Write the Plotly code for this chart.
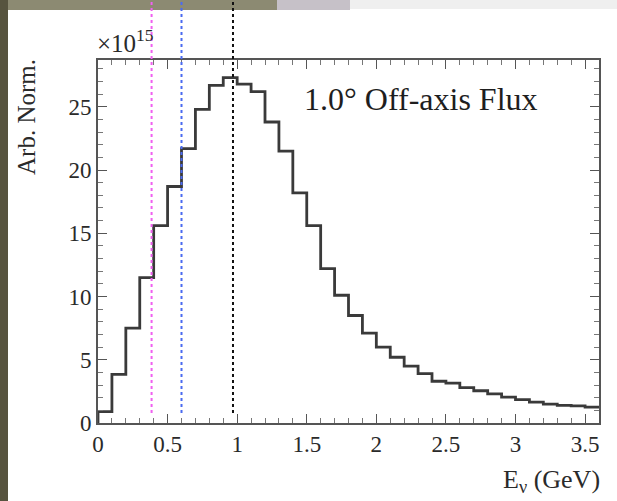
import plotly.graph_objects as go

# ---- data ----
bin_edges = [0.0, 0.1, 0.2, 0.3, 0.4, 0.5, 0.6, 0.7, 0.8, 0.9, 1.0, 1.1, 1.2,
             1.3, 1.4, 1.5, 1.6, 1.7, 1.8, 1.9, 2.0, 2.1, 2.2, 2.3, 2.4, 2.5,
             2.6, 2.7, 2.8, 2.9, 3.0, 3.1, 3.2, 3.3, 3.4, 3.5, 3.6]
flux = [0.9, 3.85, 7.5, 11.5, 15.6, 18.7, 21.7, 24.8, 26.7, 27.3, 26.8, 26.2,
        23.8, 21.5, 18.2, 15.6, 12.2, 10.1, 8.5, 7.1, 6.0, 5.2, 4.5, 3.9,
        3.3, 3.15, 2.8, 2.55, 2.3, 2.05, 1.85, 1.65, 1.5, 1.4, 1.35, 1.25]
marker_energies = [0.385, 0.6, 0.97]
marker_colors = ["#f060f0", "#4a6af0", "#111111"]
x_ticks = [0, 0.5, 1, 1.5, 2, 2.5, 3, 3.5]
x_tick_labels = ["0", "0.5", "1", "1.5", "2", "2.5", "3", "3.5"]
y_ticks = [0, 5, 10, 15, 20, 25]
y_tick_labels = ["0", "5", "10", "15", "20", "25"]
x_range = [0, 3.6]
y_range = [0, 28.7]

W, H = 617, 501
L, R, T, B = 98, 18, 60, 78
pw, ph = W - L - R, H - T - B


def px(xp):
    return (xp - L) / pw


def py(yp):
    return (H - B - yp) / ph


# step line
xs = [bin_edges[0]]
ys = [0]
for i, v in enumerate(flux):
    xs += [bin_edges[i], bin_edges[i + 1]]
    ys += [v, v]

fig = go.Figure()
fig.add_trace(go.Scatter(x=xs, y=ys, mode="lines",
                         line=dict(color="#3a3a3a", width=2.8),
                         hoverinfo="skip", showlegend=False))

font = "Liberation Serif, Times New Roman, serif"
txt = "#2a2a2a"

shapes = []
# decorative bands of the screenshot
shapes.append(dict(type="rect", xref="paper", yref="paper",
                   x0=px(0), x1=px(8), y0=py(H), y1=py(0),
                   fillcolor="#57543f", line=dict(width=0), layer="above"))
shapes.append(dict(type="rect", xref="paper", yref="paper",
                   x0=px(8), x1=px(277), y0=py(10), y1=py(0),
                   fillcolor="#8c8a72", line=dict(width=0), layer="above"))
shapes.append(dict(type="rect", xref="paper", yref="paper",
                   x0=px(277), x1=px(350), y0=py(10), y1=py(0),
                   fillcolor="#c6c1c8", line=dict(width=0), layer="above"))
shapes.append(dict(type="rect", xref="paper", yref="paper",
                   x0=px(350), x1=px(W), y0=py(9), y1=py(0),
                   fillcolor="#efefef", line=dict(width=0), layer="above"))
for e, c in zip(marker_energies, marker_colors):
    shapes.append(dict(type="line", xref="x", yref="paper",
                       x0=e, x1=e, y0=py(413), y1=py(0),
                       line=dict(color=c, width=2, dash="dot"), layer="above"))

fig.update_layout(
    width=W, height=H,
    margin=dict(l=L, r=R, t=T, b=B),
    paper_bgcolor="white", plot_bgcolor="white",
    shapes=shapes,
    font=dict(family=font, color=txt, size=23),
    xaxis=dict(range=x_range, tickvals=x_ticks, ticktext=x_tick_labels,
               ticks="inside", ticklen=9, tickwidth=1.2, tickcolor="#555",
               showline=True, linecolor="#555", linewidth=1.6, mirror="allticks",
               showgrid=False, zeroline=False,
               minor=dict(ticks="inside", dtick=0.1, ticklen=5, tickcolor="#777",
                          showgrid=False),
               tickfont=dict(family=font, size=23, color=txt)),
    yaxis=dict(range=y_range, tickvals=y_ticks, ticktext=y_tick_labels,
               ticks="inside", ticklen=9, tickwidth=1.2, tickcolor="#555",
               showline=True, linecolor="#555", linewidth=1.6, mirror="allticks",
               showgrid=False, zeroline=False,
               minor=dict(ticks="inside", dtick=1, ticklen=5, tickcolor="#777",
                          showgrid=False),
               tickfont=dict(family=font, size=23, color=txt)),
    annotations=[
        dict(text="1.0° Off-axis Flux", xref="paper", yref="paper",
             x=px(302), y=py(99), xanchor="left", yanchor="middle",
             showarrow=False, font=dict(family=font, size=32, color="#1e1e1e")),
        dict(text="×10<sup>15</sup>", xref="paper", yref="paper",
             x=px(95), y=py(59), xanchor="left", yanchor="bottom",
             showarrow=False, font=dict(family=font, size=25, color=txt)),
        dict(text="Arb. Norm.", xref="paper", yref="paper", textangle=-90,
             x=px(26), y=py(57), xanchor="center", yanchor="top",
             showarrow=False, font=dict(family=font, size=25, color=txt)),
        dict(text="E<sub>ν</sub> (GeV)", xref="paper", yref="paper",
             x=px(602), y=py(481), xanchor="right", yanchor="middle",
             showarrow=False, font=dict(family=font, size=26, color=txt)),
    ],
)

fig.write_html("out.html")
